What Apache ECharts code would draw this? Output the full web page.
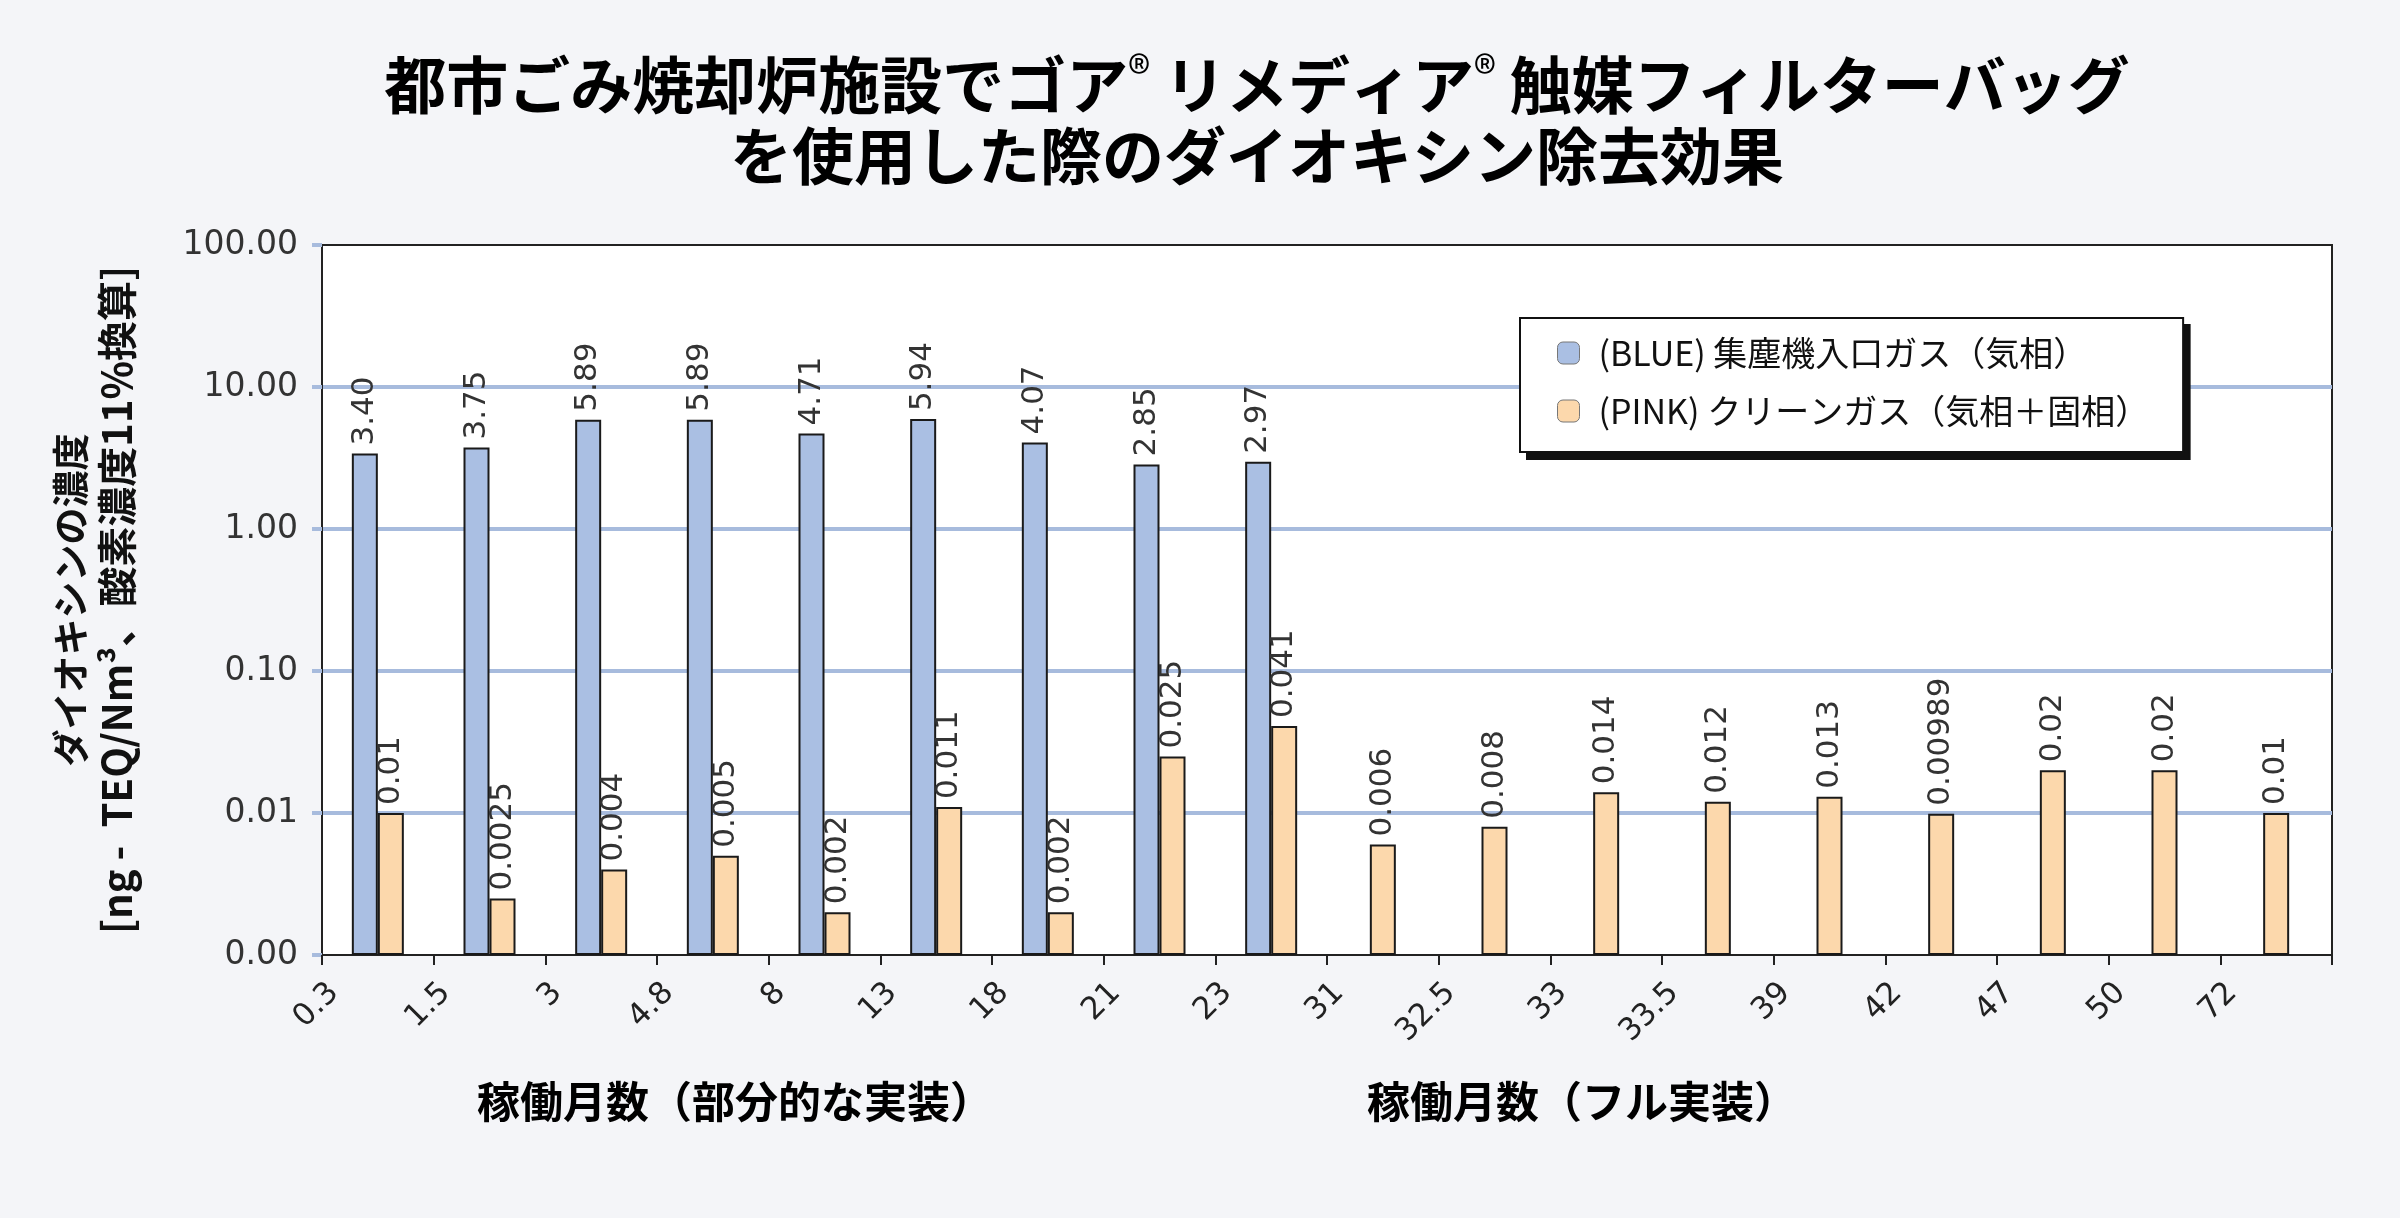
<!DOCTYPE html>
<html>
<head>
<meta charset="utf-8">
<script src="https://cdn.jsdelivr.net/npm/echarts@6/dist/echarts.min.js"></script>
<style>
html,body{margin:0;padding:0;background:#f4f5f8;}
#chart{width:2400px;height:1218px;}
</style>
</head>
<body>
<div id="chart"></div>
<script>
const categories = ['0.3','1.5','3','4.8','8','13','18','21','23','31','32.5','33','33.5','39','42','47','50','72'];
const blueValues = [3.40,3.75,5.89,5.89,4.71,5.94,4.07,2.85,2.97,null,null,null,null,null,null,null,null,null];
const pinkValues = [0.01,0.0025,0.004,0.005,0.002,0.011,0.002,0.025,0.041,0.006,0.008,0.014,0.012,0.013,0.00989,0.02,0.02,0.01];
const yMin = 0.001;
const yMax = 100;
const blueName = '(BLUE) 集塵機入口ガス（気相）';
const pinkName = '(PINK) クリーンガス（気相＋固相）';
const titleText = '都市ごみ焼却炉施設でゴア{sup|®} リメディア{sup|®} 触媒フィルターバッグ\nを使用した際のダイオキシン除去効果';
const xTitleLeft = '稼働月数（部分的な実装）';
const xTitleRight = '稼働月数（フル実装）';
const yName = '{a|ダイオキシンの濃度}\n{b|[ng -  TEQ/Nm³、酸素濃度11%換算]}';

const blueData = blueValues.map(v => v == null ? '-' : v);
const pinkPaired = pinkValues.map((v, i) => blueValues[i] != null ? v : '-');
const pinkSolo = pinkValues.map((v, i) => blueValues[i] == null ? v : '-');

const CJK = 'Noto Sans CJK JP';
const NUM = 'DejaVu Sans';
const GRIDBLUE = '#a7bbdd';

const labelBase = {
  show: true, position: 'top', rotate: 90, align: 'left', verticalAlign: 'middle',
  distance: 8, fontSize: 31, fontFamily: NUM, color: '#333'
};

const legendCommon = {
  data: [blueName, pinkName], orient: 'vertical',
  itemWidth: 22, itemHeight: 22, itemGap: 22, borderWidth: 2,
  padding: [17, 34, 23, 37]
};

const chart = echarts.init(document.getElementById('chart'));
chart.setOption({
  backgroundColor: '#f4f5f8',
  animation: false,
  title: [
    { text: titleText, left: 1257, top: 50, textAlign: 'center', padding: 0,
      textStyle: { fontSize: 62, fontWeight: 'bold', lineHeight: 71, color: '#000', fontFamily: CJK,
        rich: { sup: { fontSize: 46, fontWeight: 'normal', verticalAlign: 'top', fontFamily: CJK, color: '#000' } } } },
    { text: xTitleLeft, left: 477, top: 1080, padding: 0,
      textStyle: { fontSize: 43, fontWeight: 'bold', color: '#000', fontFamily: CJK } },
    { text: xTitleRight, left: 1367, top: 1080, padding: 0,
      textStyle: { fontSize: 43, fontWeight: 'bold', color: '#000', fontFamily: CJK } }
  ],
  legend: [
    Object.assign({}, legendCommon, {
      left: 1527, top: 325, z: 3, selectedMode: false,
      backgroundColor: '#111', borderColor: '#111',
      textStyle: { fontSize: 34, fontFamily: CJK, color: 'rgba(0,0,0,0)', lineHeight: 36, padding: [0, 0, 0, 14] },
      itemStyle: { opacity: 0, borderWidth: 0 }
    }),
    Object.assign({}, legendCommon, {
      left: 1520, top: 318, z: 4,
      backgroundColor: '#fff', borderColor: '#111',
      textStyle: { fontSize: 34, fontFamily: CJK, color: '#111', lineHeight: 36, padding: [0, 0, 0, 14] },
      itemStyle: { borderWidth: 1, borderColor: '#777' }
    })
  ],
  grid: [
    { left: 322, right: 68, top: 245, bottom: 263, show: true, backgroundColor: '#fff', borderColor: '#222', borderWidth: 2 },
    { left: 334, right: 56, top: 245, bottom: 263, show: false }
  ],
  xAxis: [
    { type: 'category', gridIndex: 0, data: categories, boundaryGap: true,
      axisLine: { show: true, lineStyle: { color: '#222', width: 2 } },
      axisTick: { show: true, inside: false, length: 10, interval: 0, lineStyle: { color: '#222', width: 2 } },
      axisLabel: { show: false }, splitLine: { show: false } },
    { type: 'category', gridIndex: 0, data: categories, show: false },
    { type: 'category', gridIndex: 1, data: categories.concat(['']), boundaryGap: false,
      axisLine: { show: false }, axisTick: { show: false }, splitLine: { show: false },
      axisLabel: { show: true, interval: 0, rotate: 45, margin: 33, fontSize: 31, fontFamily: NUM, color: '#222' } }
  ],
  yAxis: [
    { type: 'log', gridIndex: 0, logBase: 10, min: yMin, max: yMax, startValue: yMin,
      name: yName, nameLocation: 'middle', nameRotate: 90, nameGap: 182,
      nameTextStyle: { fontWeight: 'bold', lineHeight: 46, color: '#111', fontFamily: CJK, align: 'center',
        rich: {
          a: { fontSize: 37, fontWeight: 'bold', lineHeight: 46, fontFamily: CJK, color: '#111' },
          b: { fontSize: 40, fontWeight: 'bold', lineHeight: 46, fontFamily: CJK, color: '#111' }
        } },
      axisLine: { show: true, lineStyle: { color: '#222', width: 2 } },
      axisTick: { show: true, inside: false, length: 10, lineStyle: { color: GRIDBLUE, width: 4 } },
      axisLabel: { fontSize: 33, fontFamily: NUM, color: '#333', margin: 24, formatter: v => Number(v).toFixed(2) },
      splitLine: { show: true, showMinLine: false, showMaxLine: false, lineStyle: { color: GRIDBLUE, width: 4 } },
      minorTick: { show: false }, minorSplitLine: { show: false } },
    { type: 'value', gridIndex: 1, show: false }
  ],
  series: [
    { name: blueName, type: 'bar', xAxisIndex: 0, yAxisIndex: 0, data: blueData,
      barWidth: 26, barGap: '0%',
      itemStyle: { color: '#aabfe3', borderColor: '#1a1a1a', borderWidth: 2 },
      label: Object.assign({}, labelBase, { formatter: p => Number(p.value).toFixed(2) }) },
    { name: pinkName, type: 'bar', xAxisIndex: 0, yAxisIndex: 0, data: pinkPaired,
      barWidth: 26, barGap: '0%',
      itemStyle: { color: '#fcd8ac', borderColor: '#1a1a1a', borderWidth: 2 },
      label: Object.assign({}, labelBase, { formatter: p => String(p.value) }) },
    { name: pinkName, type: 'bar', xAxisIndex: 1, yAxisIndex: 0, data: pinkSolo,
      barWidth: 26,
      itemStyle: { color: '#fcd8ac', borderColor: '#1a1a1a', borderWidth: 2 },
      label: Object.assign({}, labelBase, { formatter: p => String(p.value) }) }
  ]
});
</script>
</body>
</html>
